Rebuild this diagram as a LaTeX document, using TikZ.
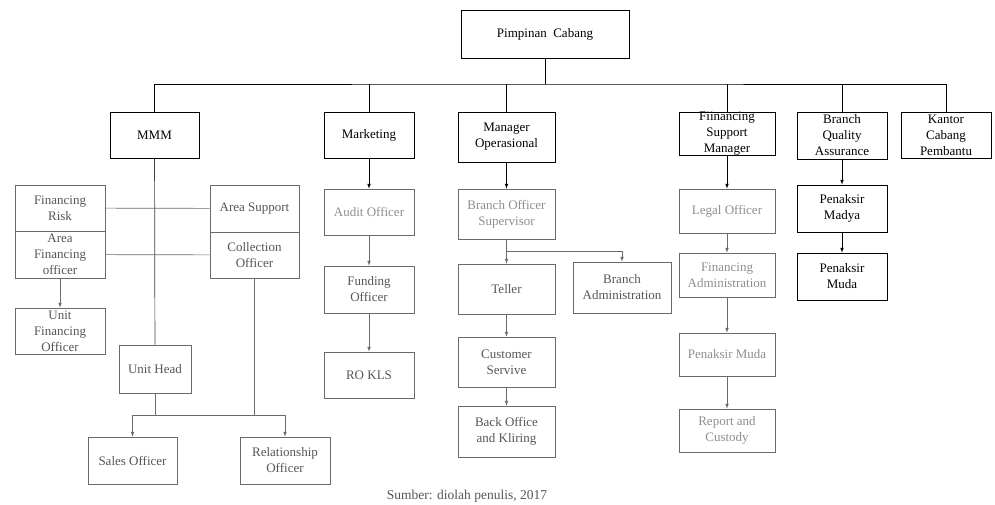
\documentclass[tikz,border=0pt]{standalone}
\usepackage{fontspec}
\setmainfont{Liberation Serif}
\usepackage{tikz}
\usetikzlibrary{arrows, positioning}
\definecolor{linegrey}{HTML}{6A6A6A}
\definecolor{textgrey}{HTML}{555555}
\definecolor{paletext}{HTML}{8E8E8E}
\tikzstyle{unit} = [rectangle, minimum width=90pt, minimum height=46pt, text centered, align=center, inner xsep=2pt, inner ysep=1pt, draw=black, font=\rmfamily\fontsize{13}{16}\selectfont]
\tikzstyle{staff} = [unit, draw=linegrey, text=textgrey]
\tikzstyle{pale} = [unit, draw=linegrey, text=paletext]
\tikzstyle{link} = [draw=linegrey, line width=0.7pt]

\begin{document}
\begin{tikzpicture}[x=1pt, y=-1pt, >=latex, line width=0.7pt]
        \useasboundingbox (0,0) rectangle (995,504);

        % pimpinan dan kepala bagian
        \node[unit, minimum width=168pt, minimum height=48pt] (pc) at (545,34) {Pimpinan\ \ Cabang};
        \coordinate (bus) at (545,84);
        \node[unit, minimum width=89pt] (mmm) at (154.5,135) {MMM};
        \node[unit] (mkt) at (369,135) {Marketing};
        \node[unit, minimum width=97pt, minimum height=50pt] (mo) at (506.5,137) {Manager\\Operasional};
        \node[unit, minimum width=96pt, minimum height=42pt, inner ysep=0pt] (fsm) at (727,134) {Fiinancing\\Support\\Manager};
        \node[unit, minimum height=47pt] (bqa) at (842,135.5) {Branch\\Quality\\Assurance};
        \node[unit] (kcp) at (946,135) {Kantor\\Cabang\\Pembantu};

        % MMM
        \node[staff] (fr) at (60,208) {Financing\\Risk};
        \node[staff, minimum height=47pt] (afo) at (60,254.5) {Area\\Financing\\officer};
        \node[staff] (ufo) at (60,331) {Unit\\Financing\\Officer};
        \node[staff, minimum width=89pt, minimum height=47pt] (as) at (254.5,208.5) {Area Support};
        \node[staff, minimum width=89pt] (co) at (254.5,255) {Collection\\Officer};
        \node[staff, minimum width=72pt, minimum height=48pt] (uh) at (155,369) {Unit Head};
        \node[staff, minimum width=89pt, minimum height=47pt] (so) at (132.5,460.5) {Sales Officer};
        \node[staff, minimum height=47pt] (ro) at (285,460.5) {Relationship\\Officer};
        \coordinate (split) at (155,415);

        % Marketing
        \node[pale] (ao) at (369,212) {Audit Officer};
        \node[staff, minimum height=47pt] (fo) at (369,289.5) {Funding\\Officer};
        \node[staff] (rok) at (369,375) {RO KLS};

        % Manager Operasional
        \node[pale, minimum width=97pt, minimum height=50pt] (bos) at (506.5,214) {Branch Officer\\Supervisor};
        \coordinate (opsplit) at (506.5,251);
        \node[staff, minimum width=97pt, minimum height=50pt] (tel) at (506.5,289) {Teller};
        \node[staff, minimum width=98pt, minimum height=51pt] (ba) at (622,287.5) {Branch\\Administration};
        \node[staff, minimum width=97pt, minimum height=50pt] (cs) at (506.5,362) {Customer\\Servive};
        \node[staff, minimum width=97pt, minimum height=51pt] (bok) at (506.5,431.5) {Back Office\\and Kliring};

        % Financing Support Manager
        \node[pale, minimum width=96pt, minimum height=44pt] (lo) at (727,211) {Legal Officer};
        \node[pale, minimum width=96pt, minimum height=44pt] (fa) at (727,275) {Financing\\Administration};
        \node[pale, minimum width=96pt, minimum height=43pt] (pmf) at (727,354.5) {Penaksir Muda};
        \node[pale, minimum width=96pt, minimum height=43pt] (rc) at (727,430.5) {Report and\\Custody};

        % Branch Quality Assurance
        \node[unit, minimum height=47pt] (pmd) at (842,208.5) {Penaksir\\Madya};
        \node[unit, minimum height=47pt] (pmm) at (842,276.5) {Penaksir\\Muda};

        \node[text=textgrey, font=\rmfamily\fontsize{13.5}{16}\selectfont] (src) at (467,496) {Sumber: diolah penulis, 2017};

        \draw[line width=1pt] (pc) -- (bus);
        \draw (mmm.north) |- (bus) -| (kcp.north);
        \draw (mkt.north) -- (mkt.north |- bus);
        \draw (mo.north) -- (mo.north |- bus);
        \draw (fsm.north) -- (fsm.north |- bus);
        \draw (bqa.north) -- (bqa.north |- bus);

        \draw[black!75] (mmm) -- (uh);
        \draw[link] (fr) -- (as);
        \draw[link] (afo) -- (co);
        \draw[link, ->] (afo) -- (ufo);
        \draw[link] (uh) -- (split);
        \draw[link, ->] (split) -| (so.north);
        \draw[link, ->] (split) -| (ro.north);
        \draw[link] (co.south) -- (co.south |- split);

        \draw[->] (mkt) -- (ao);
        \draw[link, ->] (ao) -- (fo);
        \draw[link, ->] (fo) -- (rok);

        \draw[->] (mo) -- (bos);
        \draw[link] (bos) -- (opsplit);
        \draw[link, ->] (opsplit) -- (tel);
        \draw[link, ->] (opsplit) -| (ba.north);
        \draw[link, ->] (tel) -- (cs);
        \draw[link, ->] (cs) -- (bok);

        \draw[->] (fsm) -- (lo);
        \draw[link, ->] (lo) -- (fa);
        \draw[link, ->] (fa) -- (pmf);
        \draw[link, ->] (pmf) -- (rc);

        \draw[->] (bqa) -- (pmd);
        \draw[->] (pmd) -- (pmm);
    \end{tikzpicture}
\end{document}
